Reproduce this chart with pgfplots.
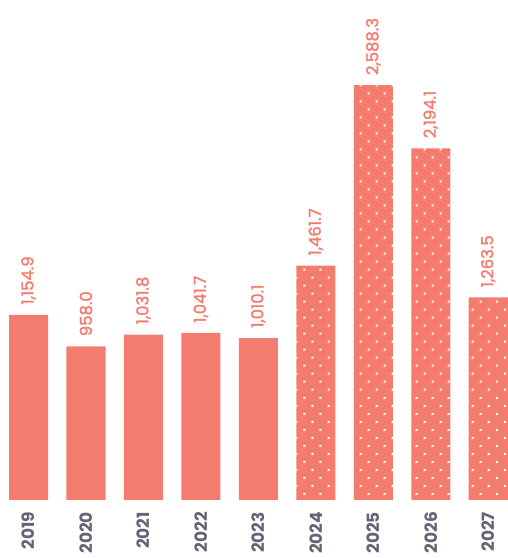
\documentclass[border=0pt]{standalone}
\usepackage{pgfplots}
\pgfplotsset{compat=1.18}
\usepackage{fontspec}
\setmainfont{Poppins}
\newfontfamily\valfont[FakeBold=1.6]{Poppins}
\usetikzlibrary{patterns}
\definecolor{salmon}{RGB}{244,124,110}
\definecolor{yeargray}{RGB}{100,100,115}
\pgfdeclarepatternformonly{dotsq}{\pgfqpoint{-1bp}{-1bp}}{\pgfqpoint{15bp}{15bp}}{\pgfqpoint{16bp}{16bp}}{%
  \pgfpathrectangle{\pgfqpoint{-1bp}{-1bp}}{\pgfqpoint{2bp}{2bp}}%
  \pgfpathrectangle{\pgfqpoint{7bp}{7bp}}{\pgfqpoint{2bp}{2bp}}%
  \pgfusepath{fill}}
\begin{document}
\begin{tikzpicture}
\begin{axis}[
  scale only axis,
  width=507bp, height=499bp,
  xmin=-0.4967, xmax=8.34,
  ymin=0, ymax=3119.7,
  axis line style={draw=none},
  ytick=\empty,
  major tick length=0pt,
  ybar, bar width=39bp,
  xtick={0,1,2,3,4,5,6,7,8},
  xticklabels={2019,2020,2021,2022,2023,2024,2025,2026,2027},
  xticklabel style={rotate=90, anchor=east, font=\fontsize{17}{17}\selectfont\bfseries, text=yeargray, inner ysep=0pt, inner xsep=4bp, xshift=-8bp},
  clip=false,
  nodes near coords,
  every node near coord/.append style={rotate=90, anchor=west, inner sep=0pt, xshift=10bp, text=salmon, font=\valfont\fontsize{16.5}{16.5}\selectfont,
    /pgf/number format/fixed, /pgf/number format/fixed zerofill, /pgf/number format/precision=1, /pgf/number format/1000 sep={,}, /pgf/number format/assume math mode=true},
]
\addplot[fill=salmon, draw=none, bar shift=0pt] coordinates {(0,1154.9) (1,958.0) (2,1031.8) (3,1041.7) (4,1010.1)};
\addplot[fill=salmon, draw=none, bar shift=0pt, postaction={pattern=dotsq, pattern color=white}] coordinates {(5,1461.7) (6,2588.3) (7,2194.1) (8,1263.5)};
\end{axis}
\end{tikzpicture}
\end{document}
